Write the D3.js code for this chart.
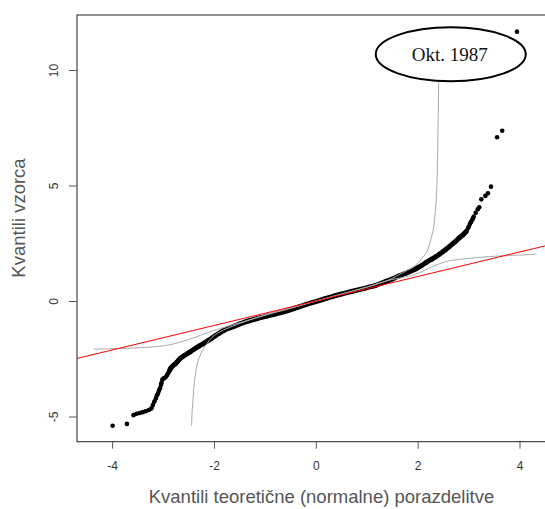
<!DOCTYPE html>
<html><head><meta charset="utf-8">
<script src="https://cdn.jsdelivr.net/npm/d3@7"></script>
<style>body{margin:0;background:#fff;} svg{display:block;}</style>
</head><body>
<svg id="c" width="545" height="509"></svg>
<script>
// ---- data ----
const xTicks = [-4, -2, 0, 2, 4];
const yTicks = [-5, 0, 5, 10];
const xTitle = "Kvantili teoretične (normalne) porazdelitve";
const yTitle = "Kvantili vzorca";
const annotation = "Okt. 1987";
// sample quantiles vs theoretical normal quantiles [x, y]
const samplePoints = [
 [-3.99,-5.40],[-3.71,-5.32],[-3.58,-4.94],[-3.52,-4.88],[-3.46,-4.85],[-3.40,-4.81],[-3.34,-4.77],
 [-3.28,-4.72],[-3.23,-4.65],[-3.20,-4.50],[-3.17,-4.35],[-3.14,-4.21],[-3.12,-4.08],[-3.10,-4.00],
 [-3.08,-3.88],[-3.06,-3.78],[-3.04,-3.62],[-3.03,-3.54],[-3.01,-3.39],[-2.98,-3.34],[-2.95,-3.30],
 [-2.92,-3.20],[-2.90,-3.13],[-2.87,-3.00],[-2.85,-2.91],[-2.82,-2.84],[-2.79,-2.77],[-2.75,-2.70],
 [-2.72,-2.63],[-2.69,-2.55],[-2.66,-2.48],[-2.61,-2.40],[-2.57,-2.34],[-2.51,-2.26],[-2.46,-2.19],
 [-2.40,-2.10],[-2.33,-2.00],[-2.26,-1.91],[-2.20,-1.83],[-2.12,-1.72],[-2.04,-1.61],[-1.97,-1.50],
 [-1.90,-1.40],[-1.80,-1.27],[-1.71,-1.18],[-1.60,-1.09],[-1.50,-1.00],[-1.38,-0.90],[-1.25,-0.82],
 [-1.10,-0.73],[-0.95,-0.65],[-0.80,-0.57],[-0.65,-0.48],[-0.50,-0.38],[-0.35,-0.27],[-0.20,-0.16],
 [-0.07,-0.07],[0.05,0.01],[0.20,0.11],[0.35,0.21],[0.52,0.31],[0.70,0.41],[0.85,0.49],[0.98,0.56],
 [1.10,0.63],[1.18,0.68],[1.30,0.78],[1.42,0.88],[1.51,0.96],[1.64,1.09],[1.75,1.19],[1.84,1.27],
 [1.97,1.40],[2.08,1.54],[2.17,1.67],[2.26,1.79],[2.36,1.92],[2.43,2.03],[2.50,2.14],[2.56,2.24],
 [2.62,2.35],[2.69,2.48],[2.75,2.59],[2.82,2.74],[2.89,2.86],[2.95,3.00],[3.00,3.20],[3.03,3.35],
 [3.05,3.43],[3.08,3.55],[3.10,3.65],[3.14,3.82],[3.18,3.97],[3.21,4.06],[3.25,4.40],[3.33,4.55],
 [3.38,4.66],[3.44,4.95],[3.56,7.09],[3.66,7.37],[3.95,11.66]
];
// reference curve: heavy-tailed distribution
const steepCurve = [
 [-2.44,-5.40],[-2.43,-4.80],[-2.41,-4.20],[-2.39,-3.60],[-2.36,-3.10],[-2.33,-2.72],[-2.28,-2.40],
 [-2.23,-2.15],[-2.14,-1.85],[-2.04,-1.58],[-1.90,-1.35],[-1.70,-1.15],[-1.40,-0.90],[-1.00,-0.62],
 [-0.50,-0.32],[0.00,-0.01],[0.50,0.30],[1.00,0.60],[1.40,0.88],[1.70,1.22],[1.90,1.45],[2.02,1.68],
 [2.10,1.90],[2.17,2.08],[2.23,2.45],[2.28,2.85],[2.31,3.15],[2.34,3.70],[2.37,4.60],[2.39,6.00],
 [2.40,7.50],[2.41,9.00],[2.41,10.20]
];
// reference curve: light-tailed distribution
const flatCurve = [
 [-4.36,-2.08],[-3.90,-2.06],[-3.41,-2.02],[-3.00,-1.94],[-2.76,-1.84],[-2.43,-1.62],[-2.10,-1.35],
 [-1.77,-1.12],[-1.40,-0.88],[-1.00,-0.60],[-0.50,-0.30],[0.00,0.00],[0.50,0.30],[1.00,0.60],
 [1.40,0.88],[1.84,1.08],[2.03,1.22],[2.30,1.50],[2.56,1.71],[2.90,1.82],[3.28,1.90],[3.80,1.97],[4.33,2.02]
];
const qqLine = {intercept: 0.0, slope: 0.53};
const annotCenter = [2.65, 10.68];

// ---- layout ----
const svg = d3.select("#c");
const L = 77, R = 547, T = 15, B = 441.7;
const x = d3.scaleLinear().domain([-4.69, 4.54]).range([L, R]);
const y = d3.scaleLinear().domain([-6.09, 12.38]).range([B, T]);

svg.append("clipPath").attr("id","clip").append("rect")
  .attr("x",L).attr("y",T).attr("width",R-L).attr("height",B-T);
const g = svg.append("g").attr("clip-path","url(#clip)");

const cr = d3.line().x(d=>x(d[0])).y(d=>y(d[1])).curve(d3.curveCatmullRom);
// sample points: dense body drawn as thick strokes + dots
const bands = [
  {lo:-4.94, hi:-3.00, w:3.4},
  {lo:-3.00, hi: 3.00, w:5.0},
  {lo: 3.00, hi: 3.65, w:4.0}
];
bands.forEach(b => {
  g.append("path").datum(samplePoints.filter(d => d[1] >= b.lo && d[1] <= b.hi))
    .attr("d", cr).attr("fill","none").attr("stroke","#000").attr("stroke-width",b.w)
    .attr("stroke-linejoin","round").attr("stroke-linecap","round");
});
g.selectAll("circle.pt").data(samplePoints).join("circle")
  .attr("class","pt").attr("cx",d=>x(d[0])).attr("cy",d=>y(d[1])).attr("r",2.3).attr("fill","#000");

// gray reference curves
[steepCurve, flatCurve].forEach(c => {
  g.append("path").datum(c).attr("d", cr)
    .attr("fill","none").attr("stroke","#aaaaaa").attr("stroke-width",1);
});

// qq line
const xd = x.domain();
g.append("line")
  .attr("x1", x(xd[0])).attr("y1", y(qqLine.intercept + qqLine.slope*xd[0]))
  .attr("x2", x(xd[1])).attr("y2", y(qqLine.intercept + qqLine.slope*xd[1]))
  .attr("stroke","#ff0000").attr("stroke-width",1);

// annotation
const ax = x(annotCenter[0]), ay = y(annotCenter[1]);
svg.append("ellipse").attr("cx",ax).attr("cy",ay).attr("rx",75).attr("ry",27)
  .attr("fill","#fff").attr("stroke","#000").attr("stroke-width",2);
svg.append("text").attr("x",ax-1).attr("y",ay+7).attr("text-anchor","middle")
  .attr("font-family","'Liberation Serif','Times New Roman',serif").attr("font-size",19)
  .attr("fill","#111").text(annotation);

// box
svg.append("rect").attr("x",L).attr("y",T).attr("width",R-L).attr("height",B-T)
  .attr("fill","none").attr("stroke","#222").attr("stroke-width",1);

// axes
const xAxis = svg.append("g").attr("transform",`translate(0,${B})`)
  .call(d3.axisBottom(x).tickValues(xTicks).tickSize(7).tickSizeOuter(0).tickFormat(d=>String(d)));
xAxis.select(".domain").remove();
xAxis.selectAll("line").attr("stroke","#555");
xAxis.selectAll("text").attr("font-family","'Liberation Sans',Arial,sans-serif").attr("font-size",12)
  .attr("fill","#333").attr("dy",null).attr("y",28);

const yAxis = svg.append("g").attr("transform",`translate(${L},0)`)
  .call(d3.axisLeft(y).tickValues(yTicks).tickSize(8).tickSizeOuter(0).tickFormat(d=>String(d)));
yAxis.select(".domain").remove();
yAxis.selectAll("line").attr("stroke","#555");
yAxis.selectAll("text").attr("font-family","'Liberation Sans',Arial,sans-serif").attr("font-size",12)
  .attr("fill","#333").attr("x",null).attr("dy",null)
  .attr("transform","translate(-19,0) rotate(-90)").attr("text-anchor","middle").attr("y",0);

// titles
svg.append("text").attr("x",321.5).attr("y",503).attr("text-anchor","middle")
  .attr("font-family","'Liberation Sans',Arial,sans-serif").attr("font-size",18.5).attr("fill","#555")
  .text(xTitle);
svg.append("text").attr("transform","translate(25,218) rotate(-90)").attr("text-anchor","middle")
  .attr("font-family","'Liberation Sans',Arial,sans-serif").attr("font-size",18.5).attr("fill","#555")
  .text(yTitle);
</script>
</body></html>
